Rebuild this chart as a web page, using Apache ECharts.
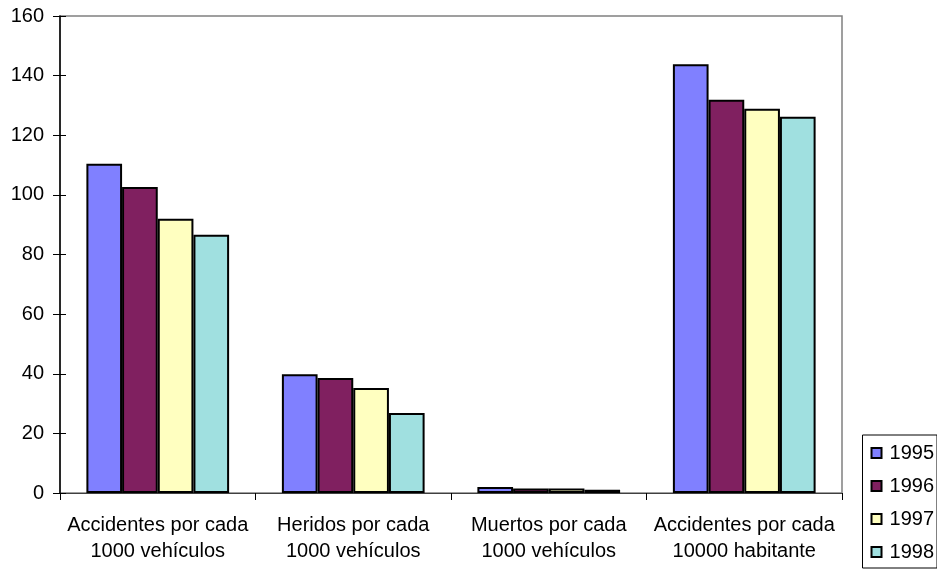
<!DOCTYPE html>
<html>
<head>
<meta charset="utf-8">
<script src="https://cdn.jsdelivr.net/npm/echarts@6/dist/echarts.min.js"></script>
<style>html,body{margin:0;padding:0;background:#fff}#c{width:937px;height:569px}</style>
</head>
<body>
<div id="c"></div>
<script>
const categories = ["Accidentes por cada\n1000 vehículos", "Heridos por cada\n1000 vehículos", "Muertos por cada\n1000 vehículos", "Accidentes por cada\n10000 habitante"];
const seriesNames = ["1995", "1996", "1997", "1998"];
const v1995 = [110.4, 39.8, 2.0, 143.8];
const v1996 = [102.6, 38.6, 1.5, 131.9];
const v1997 = [92.0, 35.2, 1.5, 128.9];
const v1998 = [86.6, 26.8, 1.1, 126.2];
const yTicks = [0, 20, 40, 60, 80, 100, 120, 140, 160];
const colors = ["#8080FF", "#802060", "#FFFFC0", "#A0E0E0"];
const values = [v1995, v1996, v1997, v1998];

const chart = echarts.init(document.getElementById('c'), null, {renderer: 'canvas'});
const font = 'Liberation Sans, Arial, sans-serif';
const yMin = yTicks[0], yMax = yTicks[yTicks.length - 1];
chart.setOption({
  animation: false,
  textStyle: {fontFamily: font},
  grid: {left: 60, right: 95, top: 16, bottom: 76, show: true, borderColor: '#808080', borderWidth: 1.5},
  legend: {
    orient: 'vertical', right: 0, bottom: 1,
    data: seriesNames,
    icon: 'rect',
    itemWidth: 10, itemHeight: 10, itemGap: 13,
    borderColor: '#000', borderWidth: 1, padding: [8, 3, 6, 8],
    textStyle: {fontSize: 20, color: '#000', fontFamily: font, padding: [0, 0, 0, 3]},
    itemStyle: {borderColor: '#000', borderWidth: 2}
  },
  xAxis: {
    type: 'category', data: categories,
    axisLine: {lineStyle: {color: '#404040', width: 1}},
    axisTick: {show: true, alignWithLabel: false, length: 7, lineStyle: {color: '#000'}},
    axisLabel: {fontSize: 20, color: '#000', lineHeight: 26, margin: 19, fontFamily: font, interval: 0}
  },
  yAxis: [{
    type: 'value', min: yMin, max: yMax, interval: 20,
    axisLine: {show: true, lineStyle: {color: '#000', width: 1.5}},
    axisTick: {show: true, length: 7, lineStyle: {color: '#000'}},
    axisLabel: {fontSize: 20, color: '#000', margin: 16, fontFamily: font},
    splitLine: {show: false}
  }, {
    type: 'value', position: 'left', min: yMin, max: yMax, interval: 20,
    axisLine: {show: false},
    axisTick: {show: true, inside: true, length: 6, lineStyle: {color: '#000'}},
    axisLabel: {show: false},
    splitLine: {show: false}
  }],
  series: seriesNames.map((n, i) => ({
    name: n, type: 'bar', data: values[i], yAxisIndex: 0,
    barGap: '0%', barCategoryGap: '27%',
    itemStyle: {color: colors[i], borderColor: '#000', borderWidth: 2}
  }))
});
</script>
</body>
</html>
